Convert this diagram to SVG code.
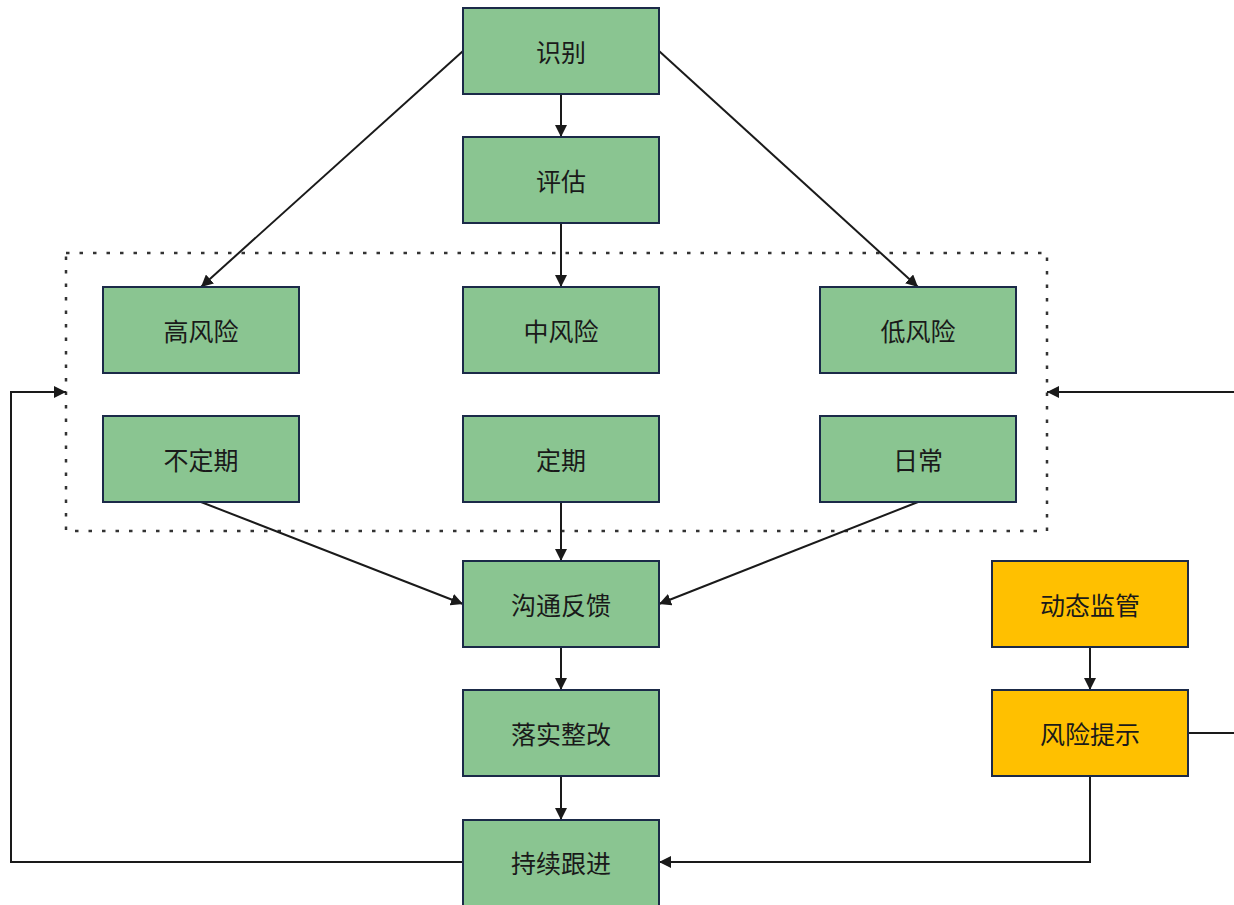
<svg xmlns="http://www.w3.org/2000/svg" width="1234" height="905" viewBox="0 0 1234 905">
<style>
.g{fill:#8AC591;stroke:#1B2A48;stroke-width:2}
.y{fill:#FFC000;stroke:#1B2A48;stroke-width:2}
.t{font-family:"Noto Sans CJK SC","Noto Sans",sans-serif;font-size:25px;fill:#1a1a1a;text-anchor:middle;dominant-baseline:central}
.c{fill:none;stroke:#1a1a1a;stroke-width:2}
.d{fill:none;stroke:#333;stroke-width:2.5;stroke-dasharray:3.5 10}
</style>
<defs>
<marker id="a" viewBox="0 0 10 10" refX="10" refY="5" markerWidth="12" markerHeight="12" markerUnits="userSpaceOnUse" orient="auto">
<path d="M0,0 L10,5 L0,10 Z" fill="#1a1a1a"/>
</marker>
</defs>
<rect width="1234" height="905" fill="#fff"/>
<rect class="d" x="66" y="253" width="981" height="278"/>
<g id="connectors">
<path class="c" d="M561,94 V137" marker-end="url(#a)"/>
<path class="c" d="M463,51 L201,287" marker-end="url(#a)"/>
<path class="c" d="M659,51 L918,287" marker-end="url(#a)"/>
<path class="c" d="M561,223 V287" marker-end="url(#a)"/>
<path class="c" d="M201,502 L463,604" marker-end="url(#a)"/>
<path class="c" d="M561,502 V561" marker-end="url(#a)"/>
<path class="c" d="M918,502 L659,604" marker-end="url(#a)"/>
<path class="c" d="M561,647 V690" marker-end="url(#a)"/>
<path class="c" d="M561,776 V820" marker-end="url(#a)"/>
<path class="c" d="M1090,647 V690" marker-end="url(#a)"/>
<path class="c" d="M1090,776 V862 H659" marker-end="url(#a)"/>
<path class="c" d="M463,862 H11 V392 H66" marker-end="url(#a)"/>
<path class="c" d="M1188,733 H1240"/>
<path class="c" d="M1240,392 H1047" marker-end="url(#a)"/>
</g>
<g id="n1"><rect class="g" x="463" y="8" width="196" height="86"/><text class="t" x="561" y="51">识别</text></g>
<g id="n2"><rect class="g" x="463" y="137" width="196" height="86"/><text class="t" x="561" y="180">评估</text></g>
<g id="n3"><rect class="g" x="103" y="287" width="196" height="86"/><text class="t" x="201" y="330">高风险</text></g>
<g id="n4"><rect class="g" x="463" y="287" width="196" height="86"/><text class="t" x="561" y="330">中风险</text></g>
<g id="n5"><rect class="g" x="820" y="287" width="196" height="86"/><text class="t" x="918" y="330">低风险</text></g>
<g id="n6"><rect class="g" x="103" y="416" width="196" height="86"/><text class="t" x="201" y="459">不定期</text></g>
<g id="n7"><rect class="g" x="463" y="416" width="196" height="86"/><text class="t" x="561" y="459">定期</text></g>
<g id="n8"><rect class="g" x="820" y="416" width="196" height="86"/><text class="t" x="918" y="459">日常</text></g>
<g id="n9"><rect class="g" x="463" y="561" width="196" height="86"/><text class="t" x="561" y="604">沟通反馈</text></g>
<g id="n10"><rect class="g" x="463" y="690" width="196" height="86"/><text class="t" x="561" y="733">落实整改</text></g>
<g id="n11"><rect class="g" x="463" y="820" width="196" height="86"/><text class="t" x="561" y="862">持续跟进</text></g>
<g id="n12"><rect class="y" x="992" y="561" width="196" height="86"/><text class="t" x="1090" y="604">动态监管</text></g>
<g id="n13"><rect class="y" x="992" y="690" width="196" height="86"/><text class="t" x="1090" y="733">风险提示</text></g>
</svg>
